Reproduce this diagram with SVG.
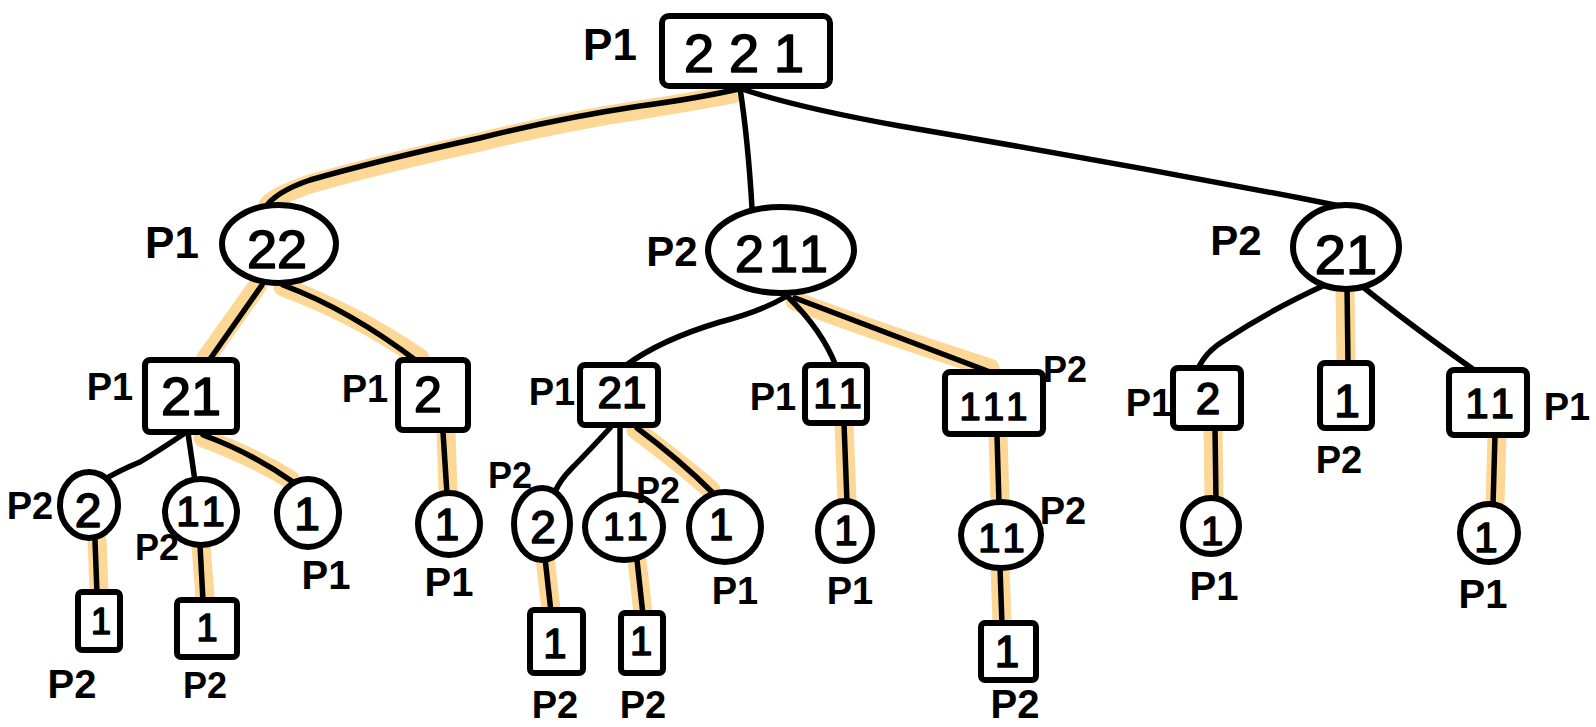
<svg xmlns="http://www.w3.org/2000/svg" width="1596" height="727" viewBox="0 0 1596 727">
<style>
.hl{fill:none;stroke:#fcd795;stroke-width:19;stroke-linecap:round;stroke-linejoin:round}
.ln{fill:none;stroke:#000;stroke-width:5.5;stroke-linecap:round;stroke-linejoin:round}
.nd{fill:#fff;stroke:#000;stroke-width:6;stroke-linejoin:round}
.v{font-family:"Liberation Sans",Arial,sans-serif;text-anchor:middle;fill:#000;stroke:#000;stroke-width:1.6;stroke-linejoin:round}
.s{letter-spacing:5px}
.p{font-family:"Liberation Sans",Arial,sans-serif;font-weight:bold;text-anchor:middle;fill:#000}
</style>
<rect width="1596" height="727" fill="#fff"/>
<g id="connectors">
<path class="hl" d="M733,94 Q690,102 640,110 Q560,122 480,142 Q380,164 310,184 Q275,196 268,205"/>
<path class="hl" d="M258,285 L206,358"/>
<path class="hl" d="M283,287 Q352,312 420,358"/>
<path class="hl" d="M795,301 Q880,333 990,368"/>
<path class="hl" d="M1345,285 L1346,361"/>
<path class="hl" d="M203,438 Q250,455 291,480"/>
<path class="hl" d="M446,432 L448,491"/>
<path class="hl" d="M97,540 L99,591"/>
<path class="hl" d="M201,545 L205,598"/>
<path class="hl" d="M636,430 Q679,462 711,490"/>
<path class="hl" d="M545,558 L551,610"/>
<path class="hl" d="M637,560 L643,613"/>
<path class="hl" d="M844,423 L847,501"/>
<path class="hl" d="M998,435 L1000,501"/>
<path class="hl" d="M1000,567 L1002,623"/>
<path class="hl" d="M1213,428 L1214,498"/>
<path class="hl" d="M1497,435 L1495,504"/>

<path class="ln" d="M743,88 Q700,98 640,106 Q560,118 480,138 Q380,160 310,180 Q275,192 265,208"/>
<path class="ln" d="M740,88 Q748,140 752,208"/>
<path class="ln" d="M745,90 Q800,108 900,126 Q1100,160 1300,198 L1340,206"/>
<path class="ln" d="M262,285 L208,362"/>
<path class="ln" d="M283,285 Q350,310 418,362"/>
<path class="ln" d="M787,296 Q760,312 720,322 Q660,340 625,366"/>
<path class="ln" d="M788,297 Q822,330 836,366"/>
<path class="ln" d="M795,298 Q880,330 990,372"/>
<path class="ln" d="M1327,284 Q1270,310 1225,340 Q1205,352 1198,369"/>
<path class="ln" d="M1347,285 L1348,364"/>
<path class="ln" d="M1363,287 Q1410,325 1477,372"/>
<path class="ln" d="M185,433 Q160,450 140,462 Q120,470 100,482"/>
<path class="ln" d="M188,433 L195,481"/>
<path class="ln" d="M203,435 Q250,452 293,482"/>
<path class="ln" d="M443,432 L447,494"/>
<path class="ln" d="M95,540 L97,594"/>
<path class="ln" d="M200,545 L203,601"/>
<path class="ln" d="M610,428 Q585,455 572,468 Q560,480 555,492"/>
<path class="ln" d="M620,428 L620,496"/>
<path class="ln" d="M637,428 Q680,460 713,493"/>
<path class="ln" d="M545,558 L551,612"/>
<path class="ln" d="M637,560 L643,615"/>
<path class="ln" d="M844,423 L847,503"/>
<path class="ln" d="M997,435 L999,504"/>
<path class="ln" d="M1000,567 L1002,625"/>
<path class="ln" d="M1215,428 L1216,500"/>
<path class="ln" d="M1495,435 L1493,506"/>
</g>

<g id="n0"><rect class="nd" x="662" y="16" width="168" height="70" rx="7"/><text class="v" x="744" y="72" font-size="54">2 2 1</text><text class="p" x="610" y="60" font-size="44">P1</text></g>
<g id="n1"><ellipse class="nd" cx="279" cy="244" rx="57" ry="39"/><text class="v" x="277" y="268" font-size="54">22</text><text class="p" x="172" y="258" font-size="44">P1</text></g>
<g id="n2"><ellipse class="nd" cx="781" cy="250" rx="73" ry="43"/><text class="v s" x="784" y="272" font-size="52">211</text><text class="p" x="672" y="266" font-size="42">P2</text></g>
<g id="n3"><ellipse class="nd" cx="1346" cy="247" rx="53" ry="42"/><text class="v" x="1346" y="274" font-size="56">21</text><text class="p" x="1236" y="255" font-size="42">P2</text></g>

<g id="n4"><rect class="nd" x="145" y="360" width="92" height="72" rx="5"/><text class="v" x="191" y="415" font-size="54">21</text><text class="p" x="110" y="400" font-size="38">P1</text></g>
<g id="n5"><rect class="nd" x="398" y="360" width="70" height="70" rx="5"/><text class="v" x="428" y="412" font-size="50">2</text><text class="p" x="365" y="402" font-size="38">P1</text></g>
<g id="n6"><rect class="nd" x="580" y="365" width="78" height="60" rx="5"/><text class="v" x="622" y="408" font-size="44">21</text><text class="p" x="552" y="405" font-size="38">P1</text></g>
<g id="n7"><rect class="nd" x="805" y="365" width="62" height="58" rx="5"/><text class="v s" x="840" y="408" font-size="42">11</text><text class="p" x="773" y="410" font-size="38">P1</text></g>
<g id="n8"><rect class="nd" x="945" y="372" width="98" height="62" rx="5"/><text class="v s" x="996" y="420" font-size="38">111</text><text class="p" x="1065" y="382" font-size="36">P2</text></g>
<g id="n9"><rect class="nd" x="1173" y="368" width="68" height="60" rx="5"/><text class="v" x="1208" y="414" font-size="44">2</text><text class="p" x="1149" y="416" font-size="38">P1</text></g>
<g id="n10"><rect class="nd" x="1320" y="363" width="52" height="65" rx="5"/><text class="v" x="1347" y="417" font-size="46">1</text><text class="p" x="1339" y="473" font-size="38">P2</text></g>
<g id="n11"><rect class="nd" x="1449" y="370" width="78" height="65" rx="5"/><text class="v s" x="1492" y="418" font-size="42">11</text><text class="p" x="1567" y="420" font-size="38">P1</text></g>

<g id="n12"><ellipse class="nd" cx="89" cy="505" rx="29" ry="33"/><text class="v" x="88" y="527" font-size="48">2</text><text class="p" x="30" y="519" font-size="38">P2</text></g>
<g id="n13"><ellipse class="nd" cx="201" cy="512" rx="36" ry="33"/><text class="v s" x="203" y="526" font-size="42">11</text><text class="p" x="157" y="560" font-size="36">P2</text></g>
<g id="n14"><ellipse class="nd" cx="308" cy="513" rx="31" ry="34"/><text class="v" x="307" y="530" font-size="46">1</text><text class="p" x="326" y="589" font-size="40">P1</text></g>
<g id="n15"><ellipse class="nd" cx="449" cy="524" rx="31" ry="31"/><text class="v" x="447" y="540" font-size="44">1</text><text class="p" x="449" y="596" font-size="40">P1</text></g>
<g id="n16"><ellipse class="nd" cx="542" cy="524" rx="28" ry="36"/><text class="v" x="543" y="543" font-size="46">2</text><text class="p" x="510" y="488" font-size="36">P2</text></g>
<g id="n17"><ellipse class="nd" cx="624" cy="527" rx="39" ry="33"/><text class="v s" x="628" y="540" font-size="38">11</text><text class="p" x="658" y="503" font-size="36">P2</text></g>
<g id="n18"><ellipse class="nd" cx="725" cy="527" rx="36" ry="35"/><text class="v" x="721" y="540" font-size="44">1</text><text class="p" x="735" y="604" font-size="38">P1</text></g>
<g id="n19"><ellipse class="nd" cx="845" cy="531" rx="27" ry="30"/><text class="v" x="846" y="545" font-size="42">1</text><text class="p" x="850" y="604" font-size="38">P1</text></g>
<g id="n20"><ellipse class="nd" cx="1001" cy="535" rx="40" ry="33"/><text class="v s" x="1004" y="552" font-size="40">11</text><text class="p" x="1063" y="524" font-size="38">P2</text></g>
<g id="n21"><ellipse class="nd" cx="1211" cy="526" rx="28" ry="28"/><text class="v" x="1212" y="545" font-size="40">1</text><text class="p" x="1214" y="600" font-size="40">P1</text></g>
<g id="n22"><ellipse class="nd" cx="1489" cy="533" rx="29" ry="29"/><text class="v" x="1486" y="552" font-size="42">1</text><text class="p" x="1483" y="608" font-size="40">P1</text></g>

<g id="n23"><rect class="nd" x="78" y="592" width="42" height="58" rx="4"/><text class="v" x="101" y="634" font-size="36">1</text><text class="p" x="72" y="698" font-size="40">P2</text></g>
<g id="n24"><rect class="nd" x="177" y="600" width="60" height="57" rx="4"/><text class="v" x="207" y="641" font-size="38">1</text><text class="p" x="205" y="698" font-size="36">P2</text></g>
<g id="n25"><rect class="nd" x="530" y="610" width="53" height="63" rx="4"/><text class="v" x="555" y="658" font-size="42">1</text><text class="p" x="555" y="718" font-size="38">P2</text></g>
<g id="n26"><rect class="nd" x="621" y="613" width="42" height="60" rx="4"/><text class="v" x="641" y="655" font-size="40">1</text><text class="p" x="643" y="718" font-size="38">P2</text></g>
<g id="n27"><rect class="nd" x="981" y="623" width="55" height="57" rx="4"/><text class="v" x="1007" y="667" font-size="44">1</text><text class="p" x="1015" y="718" font-size="40">P2</text></g>
</svg>
